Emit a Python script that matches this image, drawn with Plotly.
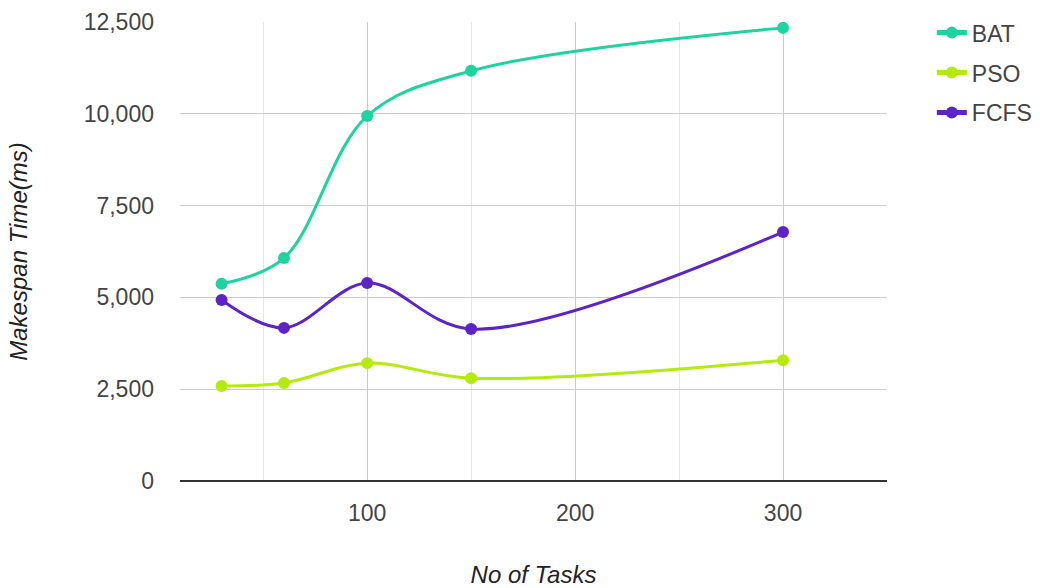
import plotly.graph_objects as go

# Number of tasks on the x axis
tasks = [30, 60, 100, 150, 300]

# Makespan time (ms) per scheduling algorithm
bat = [5370, 6070, 9940, 11170, 12340]
pso = [2590, 2670, 3210, 2800, 3290]
fcfs = [4930, 4170, 5390, 4140, 6780]

series = [
    ("BAT", bat, "#1dd3a0"),
    ("PSO", pso, "#b4ea0e"),
    ("FCFS", fcfs, "#5c24c8"),
]

font_family = "Liberation Sans, Arial, sans-serif"
text_color = "#444444"

fig = go.Figure()
for name, values, color in series:
    fig.add_trace(go.Scatter(
        x=tasks, y=values, name=name, legendgroup=name,
        mode="lines+markers",
        line=dict(color=color, width=3, shape="spline", smoothing=1.0),
        marker=dict(color=color, size=12),
    ))

fig.update_layout(
    width=1040, height=588,
    margin=dict(l=180, r=153, t=22, b=107),
    paper_bgcolor="white", plot_bgcolor="white",
    font=dict(family=font_family, size=23, color=text_color),
    showlegend=True,
    legend=dict(
        xref="container", yref="container",
        x=0.896, y=0.981, xanchor="left", yanchor="top",
        font=dict(size=23, color=text_color),
        tracegroupgap=7, itemsizing="constant",
        bgcolor="rgba(0,0,0,0)",
    ),
    xaxis=dict(
        range=[10, 350],
        tickvals=[100, 200, 300],
        ticktext=["100", "200", "300"],
        showgrid=True, gridcolor="#cccccc", gridwidth=1,
        minor=dict(tickvals=[50, 150, 250, 350], showgrid=True,
                   gridcolor="#e6e6e6", gridwidth=1),
        zeroline=False, showline=False, automargin=False,
        ticks="", ticklabelstandoff=16,
        tickfont=dict(size=23, color=text_color),
        title=dict(text="<i>No of Tasks</i>", standoff=41,
                   font=dict(size=24, color="#222222")),
        fixedrange=True,
    ),
    yaxis=dict(
        range=[0, 12500],
        tickvals=[0, 2500, 5000, 7500, 10000, 12500],
        tickformat=",d",
        showgrid=True, gridcolor="#cccccc", gridwidth=1,
        zeroline=True, zerolinecolor="#333333", zerolinewidth=2,
        showline=False, automargin=False,
        ticks="", ticklabelstandoff=25,
        tickfont=dict(size=23, color=text_color),
        title=dict(text="<i>Makespan Time(ms)</i>", standoff=49,
                   font=dict(size=24, color="#222222")),
        fixedrange=True,
    ),
)

fig.write_html("out.html")
